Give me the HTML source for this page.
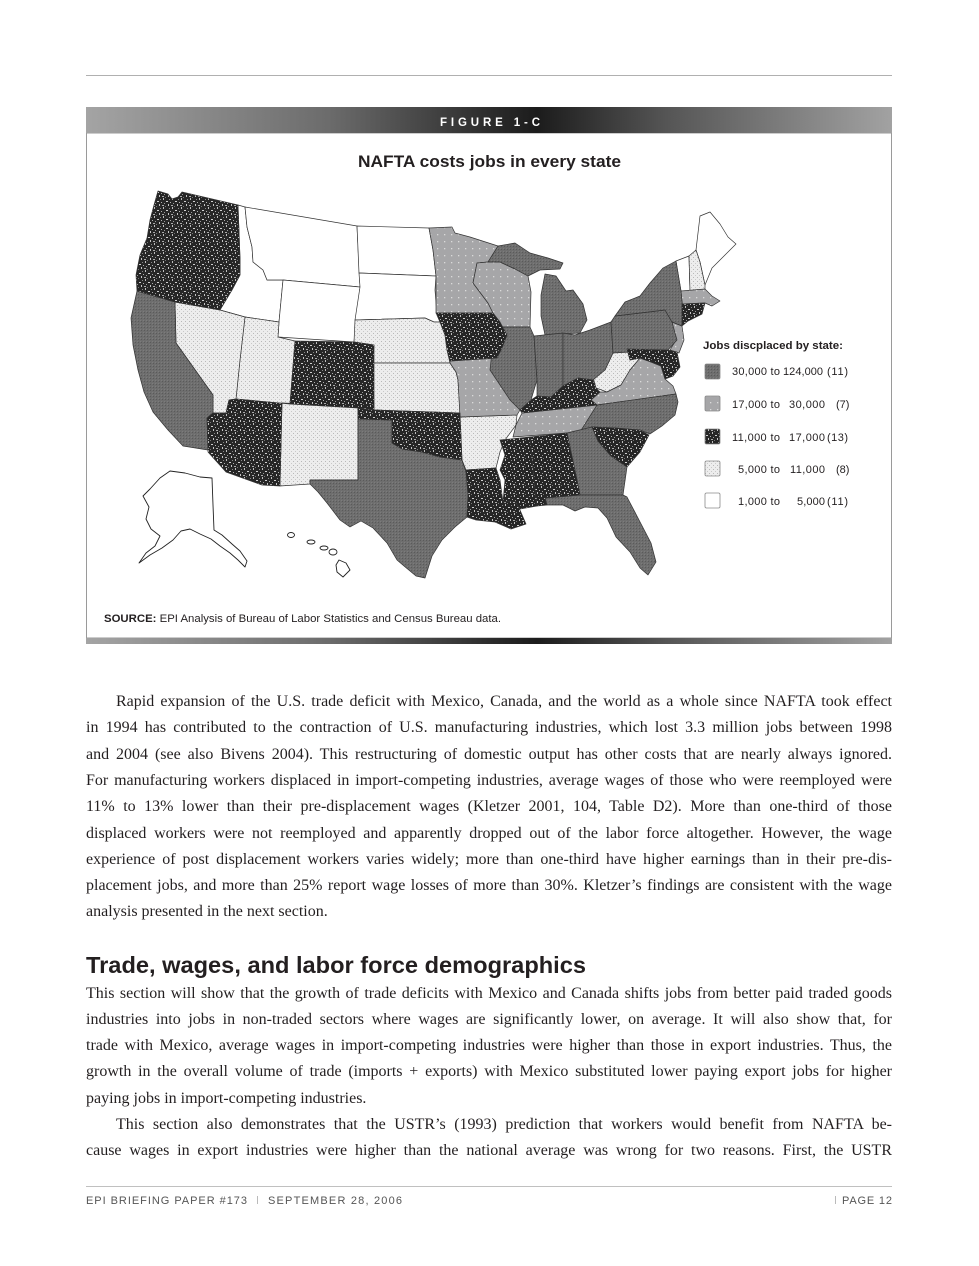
<!DOCTYPE html>
<html>
<head>
<meta charset="utf-8">
<style>
  html,body{margin:0;padding:0;background:#fff;}
  #wrap{position:relative;width:979px;height:1266px;overflow:hidden;}
  svg{display:block;position:absolute;left:0;top:0;}
  .sans{font-family:"Liberation Sans",sans-serif;}
  .ln{position:absolute;left:86px;width:806px;font-family:"Liberation Serif",serif;font-size:16px;line-height:20px;height:20px;color:#231f20;text-align:justify;text-align-last:justify;white-space:normal;}
  .ln.ind{left:116px;width:776px;}
  .ln.last{text-align:left;text-align-last:left;}
</style>
</head>
<body>
<div id="wrap">
<svg width="979" height="1266" viewBox="0 0 979 1266" xmlns="http://www.w3.org/2000/svg">
  <defs>
    <linearGradient id="bar" x1="86" y1="0" x2="892" y2="0" gradientUnits="userSpaceOnUse">
      <stop offset="0" stop-color="#a4a4a4"/>
      <stop offset="0.3" stop-color="#6c6c6c"/>
      <stop offset="0.5" stop-color="#2c2c2c"/>
      <stop offset="0.56" stop-color="#1c1c1c"/>
      <stop offset="0.72" stop-color="#555"/>
      <stop offset="1" stop-color="#a2a2a2"/>
    </linearGradient>
    <pattern id="pD" width="3" height="3" patternUnits="userSpaceOnUse">
      <rect width="3" height="3" fill="#6e6e6e"/>
      <rect width="1" height="1" fill="#5a5a5a"/>
      <rect x="2" y="2" width="1" height="1" fill="#7c7c7c"/>
    </pattern>
    <pattern id="pP" width="7" height="7" patternUnits="userSpaceOnUse">
      <rect width="7" height="7" fill="#a6a6a8"/>
      <rect x="3" y="3" width="1.3" height="1.3" fill="#dadada"/>
    </pattern>
    <pattern id="pB" width="9" height="9" patternUnits="userSpaceOnUse">
      <rect width="9" height="9" fill="#262626"/>
      <rect x="1" y="0" width="1" height="2" fill="#bdbdbd"/>
      <rect x="4" y="3" width="2" height="1" fill="#cfcfcf"/>
      <rect x="2" y="5" width="1" height="1" fill="#9a9a9a"/>
      <rect x="7" y="1" width="1" height="1" fill="#888"/>
      <rect x="6" y="6" width="1" height="2" fill="#c4c4c4"/>
      <rect x="0" y="7" width="2" height="1" fill="#aaa"/>
      <rect x="8" y="4" width="1" height="1" fill="#b0b0b0"/>
      <rect x="3" y="8" width="1" height="1" fill="#777"/>
    </pattern>
    <pattern id="pL" width="4" height="4" patternUnits="userSpaceOnUse">
      <rect width="4" height="4" fill="#ededed"/>
      <rect x="1" y="1" width="1" height="1" fill="#b9b9b9"/>
      <rect x="3" y="3" width="1" height="1" fill="#c9c9c9"/>
    </pattern>
  </defs>

  <!-- top rule -->
  <rect x="86" y="75" width="806" height="1" fill="#b0b0b0"/>

  <!-- figure frame -->
  <rect x="86.5" y="133" width="805" height="505" fill="#fff" stroke="#9a9a9a" stroke-width="1"/>
  <rect x="86" y="107" width="806" height="26" fill="url(#bar)"/>
  <rect x="86" y="638" width="806" height="6" fill="url(#bar)"/>
  <text class="sans" x="440" y="126" font-size="11.5" font-weight="bold" fill="#fff" textLength="100" lengthAdjust="spacing">FIGURE 1-C</text>

  <text class="sans" x="358" y="167" font-size="17" font-weight="bold" fill="#231f20" textLength="263" lengthAdjust="spacingAndGlyphs">NAFTA costs jobs in every state</text>

  <!-- MAP -->
  <g stroke="#333" stroke-width="0.7" stroke-linejoin="round">
    <!-- White states -->
    <polygon fill="#fff" points="238,205 245,207 247,227 252,247 253,262 263,270 267,280 283,280 279,322 245,317 220,310 232,290 240,275 240,258"/>
    <polygon fill="#fff" points="245,207 357,226 360,287 283,280 267,280 263,270 253,262 252,247 247,227"/>
    <polygon fill="#fff" points="283,280 360,287 354,342 278,337 279,322"/>
    <polygon fill="#fff" points="357,226 429,228 433,250 436,276 359,273"/>
    <polygon fill="#fff" points="359,273 436,276 435,290 437,315 440,322 434,322 425,318 355,320 360,287"/>
    <polygon fill="#fff" points="676,261 689,256 690,292 681,291"/>
    <polygon fill="#fff" points="696,250 700,216 710,212 720,224 728,237 736,244 725,255 712,268 705,285 700,262"/>

    <!-- Light speckled -->
    <polygon fill="url(#pL)" points="355,320 425,318 434,322 440,322 445,335 447,350 450,363 373,363 374,345 354,342"/>
    <polygon fill="url(#pL)" points="373,363 450,363 456,372 458,380 460,413 374,410"/>
    <polygon fill="url(#pL)" points="245,317 279,322 278,337 295,341 290,404 236,399 240,360"/>
    <polygon fill="url(#pL)" points="175,302 220,310 245,317 240,360 236,399 229,400 226,413 213,413 213,395 176,343"/>
    <polygon fill="url(#pL)" points="282,403 358,406 358,480 310,480 310,484 280,486"/>
    <polygon fill="url(#pL)" points="460,417 517,415 516,425 505,440 500,452 496,468 466,470 462,460"/>
    <polygon fill="url(#pL)" points="613,353 627,349 630,360 640,358 630,370 621,385 607,392 596,388 593,377 605,370"/>
    <polygon fill="url(#pL)" points="689,256 696,250 700,262 705,285 705,289 690,292"/>

    <!-- Dotted gray -->
    <polygon fill="url(#pP)" points="429,228 452,227 455,233 470,237 498,246 488,262 477,263 473,283 488,303 493,313 436,313 436,276 433,250"/>
    <polygon fill="url(#pP)" points="477,263 488,262 500,262 515,269 528,276 531,292 530,327 494,327 493,313 488,303 473,283"/>
    <polygon fill="url(#pP)" points="450,361 497,358 500,370 510,386 518,401 520,410 517,415 460,417 458,380 456,372 450,363"/>
    <polygon fill="url(#pP)" points="522,413 597,405 580,432 513,437 516,425"/>
    <polygon fill="url(#pP)" points="591,400 600,392 607,392 621,385 630,370 640,358 651,362 661,366 665,379 673,386 676,394 597,405"/>
    <polygon fill="url(#pP)" points="672,322 682,326 684,340 679,353 670,350 676,340"/>
    <polygon fill="url(#pP)" points="681,291 705,289 712,296 720,301 712,306 705,303 682,304"/>

    <!-- Dark gray -->
    <polygon fill="url(#pD)" points="137,291 175,302 176,343 213,395 213,413 207,418 208,450 183,446 168,430 153,412 144,392 138,370 133,345 131,318"/>
    <polygon fill="url(#pD)" points="358,419 392,420 392,443 402,449 422,452 440,457 462,460 466,472 468,495 467,517 455,527 442,540 432,556 425,578 416,576 404,566 397,560 387,543 373,528 361,521 350,527 340,520 327,503 318,492 310,484 310,480 358,480"/>
    <polygon fill="url(#pD)" points="498,246 515,243 530,253 548,258 563,263 560,269 540,270 528,276 515,269 500,262 488,262"/>
    <polygon fill="url(#pD)" points="545,274 556,276 566,291 573,290 583,304 587,320 580,333 545,335 541,316 541,295"/>
    <polygon fill="url(#pD)" points="494,327 530,327 534,336 537,380 531,400 520,410 510,400 500,385 490,370 492,352 500,345"/>
    <polygon fill="url(#pD)" points="534,336 563,333 563,386 551,397 537,396 537,380"/>
    <polygon fill="url(#pD)" points="563,333 575,335 590,330 611,322 613,353 605,370 593,380 578,378 563,386"/>
    <polygon fill="url(#pD)" points="611,322 615,316 665,310 672,322 677,340 668,350 613,353"/>
    <polygon fill="url(#pD)" points="615,316 625,302 640,296 650,283 663,268 676,261 681,291 683,310 682,326 672,322 665,310"/>
    <polygon fill="url(#pD)" points="597,405 676,394 678,402 675,415 662,426 650,434 640,430 615,428 592,427 580,432"/>
    <polygon fill="url(#pD)" points="567,433 592,427 598,441 611,456 627,467 623,495 580,495 577,480"/>
    <polygon fill="url(#pD)" points="545,498 580,495 623,495 627,497 638,518 651,543 656,562 648,575 640,568 630,552 616,537 607,518 598,508 585,507 575,511 563,505 547,505"/>

    <!-- Black speckled -->
    <polygon fill="url(#pB)" points="158,191 168,194 172,199 178,197 182,192 238,205 240,258 240,275 232,290 220,310 175,302 137,291 136,275 140,255 147,238 150,220 154,205"/>
    <polygon fill="url(#pB)" points="295,341 354,342 374,345 374,410 358,408 290,404"/>
    <polygon fill="url(#pB)" points="236,399 290,404 282,403 280,486 262,485 226,472 208,452 207,418 213,413 226,413 229,400"/>
    <polygon fill="url(#pB)" points="436,313 493,313 500,322 507,335 502,348 497,358 450,361 447,350 445,335 440,322 437,315"/>
    <polygon fill="url(#pB)" points="358,408 374,410 460,413 462,460 440,457 422,452 402,449 392,443 392,420 358,419"/>
    <polygon fill="url(#pB)" points="520,410 531,400 537,396 551,397 563,386 578,378 593,380 596,388 600,392 591,400 597,405 560,409 522,413"/>
    <polygon fill="url(#pB)" points="627,349 668,350 677,352 680,367 673,376 665,379 661,366 651,362 640,358 630,360"/>
    <polygon fill="url(#pB)" points="682,304 705,303 702,314 688,321 682,326"/>
    <polygon fill="url(#pB)" points="592,427 615,428 640,430 649,435 640,452 627,467 611,456 598,441"/>
    <polygon fill="url(#pB)" points="530,437 567,433 577,480 580,495 545,498 547,505 537,506 535,490"/>
    <polygon fill="url(#pB)" points="500,440 530,437 535,490 537,506 520,509 515,501 503,502 505,480 500,470 505,455"/>
    <polygon fill="url(#pB)" points="466,470 496,468 500,480 503,502 515,501 520,510 526,524 511,529 495,522 476,520 467,517 468,495"/>

    <!-- Alaska -->
    <polygon fill="#fff" stroke="#222" stroke-width="0.9" points="160,478 170,471 185,473 200,477 212,478 213,505 214,530 222,535 232,544 240,551 247,561 245,567 238,560 230,553 220,546 211,539 200,534 190,529 181,531 173,540 162,548 150,555 139,563 146,553 155,546 160,536 151,529 146,519 149,507 143,496 150,489"/>
    <!-- Hawaii -->
    <g fill="#fff" stroke="#222" stroke-width="0.9">
      <ellipse cx="291" cy="535" rx="3.5" ry="2.5"/>
      <ellipse cx="311" cy="542" rx="4" ry="2"/>
      <ellipse cx="324" cy="548" rx="4" ry="2"/>
      <ellipse cx="333" cy="552" rx="4" ry="3"/>
      <path d="M339,560 L346,563 L350,570 L343,577 L337,572 L336,565 Z"/>
    </g>
  </g>

  <!-- Legend -->
  <text class="sans" x="703" y="349" font-size="11" font-weight="bold" fill="#231f20" textLength="140" lengthAdjust="spacingAndGlyphs">Jobs discplaced by state:</text>
  <g stroke="#8a8a8a" stroke-width="0.8">
    <rect x="705" y="364" width="15" height="15" rx="1.5" fill="url(#pD)"/>
    <rect x="705" y="396" width="15" height="15" rx="1.5" fill="url(#pP)"/>
    <rect x="705" y="429" width="15" height="15" rx="1.5" fill="url(#pB)"/>
    <rect x="705" y="461" width="15" height="15" rx="1.5" fill="url(#pL)"/>
    <rect x="705" y="493" width="15" height="15" rx="1.5" fill="#fff"/>
  </g>
  <g class="sans" font-size="11" fill="#231f20">
    <text x="732" y="375" textLength="48" lengthAdjust="spacing">30,000 to</text>
    <text x="783" y="375" textLength="40" lengthAdjust="spacing">124,000</text>
    <text x="827" y="375" textLength="21" lengthAdjust="spacing">(11)</text>

    <text x="732" y="408" textLength="48" lengthAdjust="spacing">17,000 to</text>
    <text x="789" y="408" textLength="36" lengthAdjust="spacing">30,000</text>
    <text x="836" y="408">(7)</text>

    <text x="732" y="441" textLength="48" lengthAdjust="spacing">11,000 to</text>
    <text x="789" y="441" textLength="36" lengthAdjust="spacing">17,000</text>
    <text x="827" y="441" textLength="21" lengthAdjust="spacing">(13)</text>

    <text x="738" y="473" textLength="42" lengthAdjust="spacing">5,000 to</text>
    <text x="790" y="473" textLength="35" lengthAdjust="spacing">11,000</text>
    <text x="836" y="473">(8)</text>

    <text x="738" y="505" textLength="42" lengthAdjust="spacing">1,000 to</text>
    <text x="797" y="505" textLength="28" lengthAdjust="spacing">5,000</text>
    <text x="827" y="505" textLength="21" lengthAdjust="spacing">(11)</text>
  </g>

  <!-- Source -->
  <text class="sans" x="104" y="622" font-size="11" fill="#231f20" textLength="397" lengthAdjust="spacingAndGlyphs"><tspan font-weight="bold">SOURCE:</tspan> EPI Analysis of Bureau of Labor Statistics and Census Bureau data.</text>

  <!-- Heading -->
  <text class="sans" x="86" y="973" font-size="23" font-weight="bold" fill="#231f20" textLength="500" lengthAdjust="spacingAndGlyphs">Trade, wages, and labor force demographics</text>

  <!-- Footer -->
  <rect x="86" y="1186" width="806" height="1" fill="#c0c0c0"/>
  <g class="sans" font-size="11" fill="#555">
    <text x="86" y="1204" textLength="161" lengthAdjust="spacing">EPI BRIEFING PAPER #173</text>
    <rect x="257" y="1196" width="0.8" height="8" fill="#aaa"/>
    <text x="268" y="1204" textLength="134" lengthAdjust="spacing">SEPTEMBER 28, 2006</text>
    <rect x="835" y="1196" width="0.8" height="8" fill="#aaa"/>
    <text x="842" y="1204" textLength="50" lengthAdjust="spacing">PAGE 12</text>
  </g>
</svg>

<!-- Body paragraph 1 -->
<div class="ln ind" style="top:692px">Rapid expansion of the U.S. trade deficit with Mexico, Canada, and the world as a whole since NAFTA took effect</div>
<div class="ln" style="top:718px">in 1994 has contributed to the contraction of U.S. manufacturing industries, which lost 3.3 million jobs between 1998</div>
<div class="ln" style="top:745px">and 2004 (see also Bivens 2004). This restructuring of domestic output has other costs that are nearly always ignored.</div>
<div class="ln" style="top:771px">For manufacturing workers displaced in import-competing industries, average wages of those who were reemployed were</div>
<div class="ln" style="top:797px">11% to 13% lower than their pre-displacement wages (Kletzer 2001, 104, Table D2). More than one-third of those</div>
<div class="ln" style="top:824px">displaced workers were not reemployed and apparently dropped out of the labor force altogether. However, the wage</div>
<div class="ln" style="top:850px">experience of post displacement workers varies widely; more than one-third have higher earnings than in their pre-dis-</div>
<div class="ln" style="top:876px">placement jobs, and more than 25% report wage losses of more than 30%. Kletzer’s findings are consistent with the wage</div>
<div class="ln last" style="top:902px">analysis presented in the next section.</div>

<!-- Body paragraph 2 & 3 -->
<div class="ln" style="top:984px">This section will show that the growth of trade deficits with Mexico and Canada shifts jobs from better paid traded goods</div>
<div class="ln" style="top:1010px">industries into jobs in non-traded sectors where wages are significantly lower, on average.  It will also show that, for</div>
<div class="ln" style="top:1036px">trade with Mexico, average wages in import-competing industries were higher than those in export industries. Thus, the</div>
<div class="ln" style="top:1062px">growth in the overall volume of trade (imports + exports) with Mexico substituted lower paying export jobs for higher</div>
<div class="ln last" style="top:1089px">paying jobs in import-competing industries.</div>
<div class="ln ind" style="top:1115px">This section also demonstrates that the USTR’s (1993) prediction that workers would benefit from NAFTA be-</div>
<div class="ln" style="top:1141px">cause wages in export industries were higher than the national average was wrong for two reasons. First, the USTR</div>
</div>
</body>
</html>
